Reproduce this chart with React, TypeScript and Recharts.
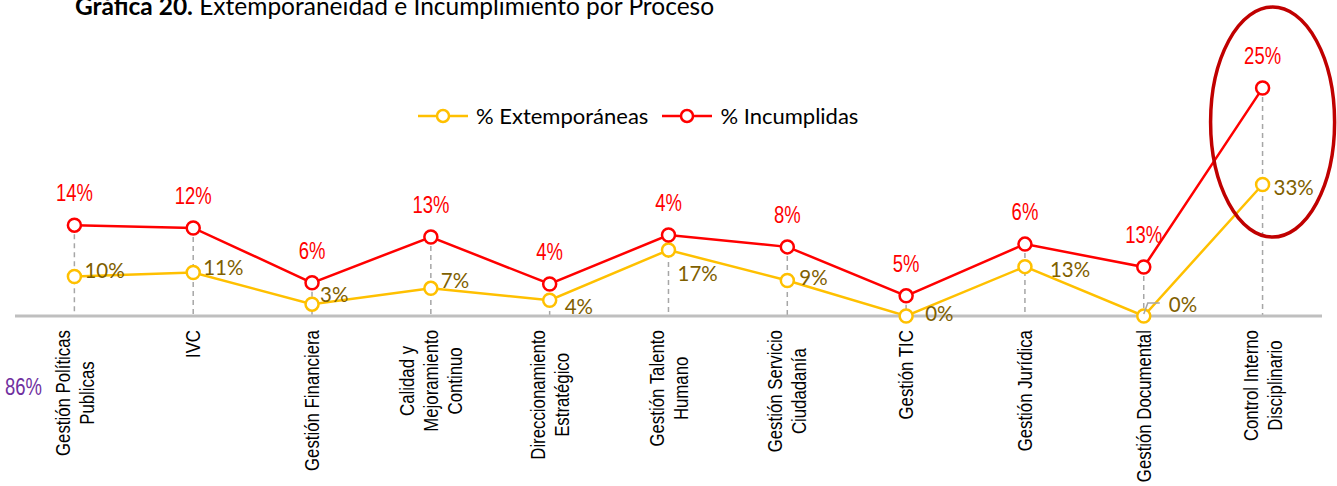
import React from "react";
import {
  ComposedChart,
  Line,
  Bar,
  XAxis,
  YAxis,
} from "recharts";

// procesos (categories)
const procesos = [
  "Gestión Políticas\nPublicas",
  "IVC",
  "Gestión Financiera",
  "Calidad y\nMejoramiento\nContinuo",
  "Direccionamiento\nEstratégico",
  "Gestión Talento\nHumano",
  "Gestión Servicio\nCiudadanía",
  "Gestión TIC",
  "Gestión Jurídica",
  "Gestión Documental",
  "Control Interno\nDisciplinario",
];

// % Extemporáneas (plotted values)
const extemporaneas = [10, 11, 3, 7, 4, 16.7, 9, 0, 12.5, 0, 33.3];
// % Incumplidas (plotted stacked on top of extemporáneas, as in the original)
const incumplidas = [13, 11.3, 5.4, 13, 4.1, 3.8, 8.5, 5.1, 5.7, 12.4, 24.4];

// data label texts as printed on the chart
const extLabels = ["10%", "11%", "3%", "7%", "4%", "17%", "9%", "0%", "13%", "0%", "33%"];
const incLabels = ["14%", "12%", "6%", "13%", "4%", "4%", "8%", "5%", "6%", "13%", "25%"];

// manual label placement (dx, dy) like the dragged labels in the source
const extLabelOffsets: [number, number][] = [
  [10, -7], [10, -6], [8, -10], [10, -8], [15, 6], [9, 23],
  [12, -3], [19, -3], [25, 2], [25, -12], [11, 3],
];

const YELLOW = "#FFC000";
const RED = "#FF0000";
const ARIAL = "'Liberation Sans', Arial, sans-serif";
const CAL = "Lato, 'Open Sans', sans-serif";
const TICK_X = 0.8; // horizontal condensing to mimic Arial Narrow
const LABEL_X = 0.77;

const data = procesos.map((p, i) => ({
  proceso: p,
  ext: extemporaneas[i],
  total: extemporaneas[i] + incumplidas[i],
}));

let ctx: CanvasRenderingContext2D | null = null;
function textWidth(t: string, font: string) {
  if (!ctx) ctx = document.createElement("canvas").getContext("2d");
  if (!ctx) return t.length * 9;
  ctx.font = font;
  return ctx.measureText(t).width;
}

function ProcesoTick(props: any) {
  const { x, y, payload } = props;
  const lines: string[] = String(payload.value).split("\n");
  const font = `21px ${ARIAL}`;
  const maxW = Math.max(...lines.map((l) => textWidth(l, font))) * TICK_X;
  const cy = y + 6 + maxW / 2;
  return (
    <g>
      {lines.map((l, i) => {
        const cx = x + (i - (lines.length - 1) / 2) * 24;
        return (
          <text
            key={i}
            x={0}
            y={0}
            textAnchor="middle"
            dominantBaseline="central"
            transform={`translate(${cx}, ${cy}) rotate(-90) scale(${TICK_X}, 1)`}
            fontFamily={ARIAL}
            fontSize={21}
            fill="#000"
          >
            {l}
          </text>
        );
      })}
    </g>
  );
}

function DropLine(props: any) {
  const { x, y, width, height } = props;
  if (height == null || height <= 0) return <g />;
  const cx = x + width / 2;
  return (
    <line x1={cx} x2={cx} y1={y} y2={y + height} stroke="#A6A6A6" strokeWidth={1.5} strokeDasharray="5 4" />
  );
}

function ExtLabel(props: any) {
  const { x, y, index } = props;
  const [dx, dy] = extLabelOffsets[index] || [10, 0];
  const leader = index === 9;
  return (
    <g>
      {leader && (
        <polyline
          points={`${x},${y - 2} ${x + 4},${y - 13} ${x + 16},${y - 13}`}
          fill="none"
          stroke="#A6A6A6"
          strokeWidth={1.5}
        />
      )}
      <text
        x={x + dx}
        y={y + dy}
        textAnchor="start"
        dominantBaseline="central"
        fontFamily={CAL}
        fontSize={20.5}
        fill="#7F6000"
      >
        {extLabels[index]}
      </text>
    </g>
  );
}

function IncLabel(props: any) {
  const { x, y, index } = props;
  return (
    <g>
      {index === procesos.length - 1 && (
        <ellipse cx={x + 10} cy={y + 34} rx={62} ry={115} fill="none" stroke="#C00000" strokeWidth={3.5} />
      )}
      <text
        x={0}
        y={0}
        transform={`translate(${x}, ${y - 32}) scale(${LABEL_X}, 1)`}
        textAnchor="middle"
        dominantBaseline="central"
        fontFamily={ARIAL}
        fontSize={24}
        fill={RED}
      >
        {incLabels[index]}
      </text>
    </g>
  );
}

function LegendItem({ color, label }: { color: string; label: string }) {
  return (
    <div style={{ display: "flex", alignItems: "center", marginRight: 14 }}>
      <svg width={50} height={16}>
        <line x1={0} x2={50} y1={8} y2={8} stroke={color} strokeWidth={2.5} />
        <circle cx={25} cy={8} r={6} fill="#fff" stroke={color} strokeWidth={2.5} />
      </svg>
      <span style={{ marginLeft: 8, fontFamily: CAL, fontSize: 22, color: "#000" }}>{label}</span>
    </div>
  );
}

export default function App() {
  return (
    <div style={{ position: "relative", width: 1337, height: 486, background: "#fff", overflow: "hidden" }}>
      <style>{"body{margin:0}"}</style>
      <ComposedChart
        width={1337}
        height={486}
        data={data}
        margin={{ top: 79, right: 15, left: 15, bottom: 0 }}
      >
        <XAxis
          dataKey="proceso"
          interval={0}
          height={170}
          tickLine={false}
          axisLine={{ stroke: "#BFBFBF", strokeWidth: 3 }}
          tick={<ProcesoTick />}
        />
        <YAxis hide domain={[0, 60]} />
        <Bar dataKey="total" shape={<DropLine />} isAnimationActive={false} />
        <Line
          dataKey="ext"
          stroke={YELLOW}
          strokeWidth={2.5}
          dot={{ r: 6.5, fill: "#fff", stroke: YELLOW, strokeWidth: 2.5 }}
          label={<ExtLabel />}
          isAnimationActive={false}
        />
        <Line
          dataKey="total"
          stroke={RED}
          strokeWidth={2.5}
          dot={{ r: 6.5, fill: "#fff", stroke: RED, strokeWidth: 2.5 }}
          label={<IncLabel />}
          isAnimationActive={false}
        />
      </ComposedChart>
      <div style={{ position: "absolute", top: 102, left: 418, display: "flex", alignItems: "center" }}>
        <LegendItem color={YELLOW} label="% Extemporáneas" />
        <LegendItem color={RED} label="% Incumplidas" />
      </div>
      <div
        style={{
          position: "absolute",
          left: 75,
          top: -9,
          fontFamily: CAL,
          fontSize: 24.5,
          color: "#000",
          whiteSpace: "nowrap",
        }}
      >
        <b>Gráfica 20.</b> Extemporaneidad e Incumplimiento por Proceso
      </div>
      <div
        style={{
          position: "absolute",
          left: 5,
          top: 373,
          fontFamily: ARIAL,
          fontSize: 24,
          color: "#7030A0",
          transform: `scaleX(${LABEL_X})`,
          transformOrigin: "left center",
        }}
      >
        86%
      </div>
    </div>
  );
}
